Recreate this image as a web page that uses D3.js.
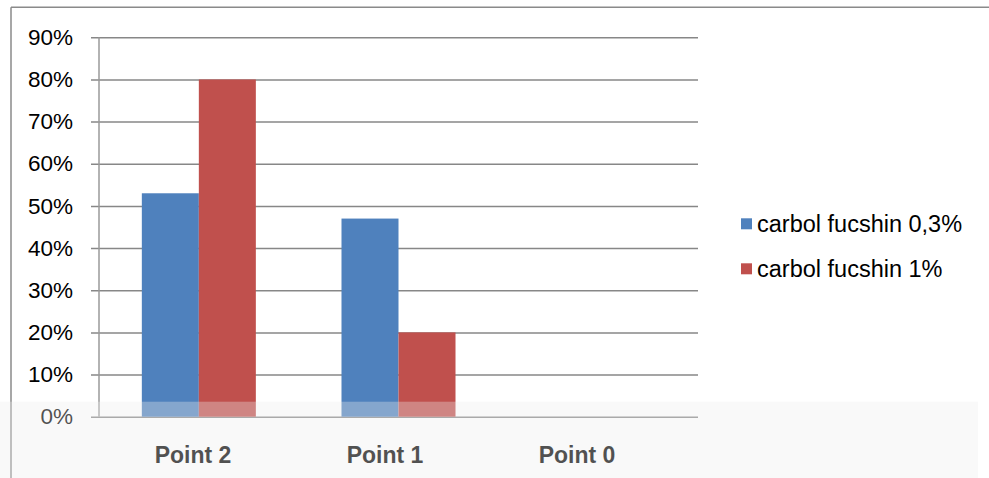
<!DOCTYPE html>
<html>
<head>
<meta charset="utf-8">
<script src="https://cdn.jsdelivr.net/npm/d3@7/dist/d3.min.js"></script>
<style>
  html, body { margin: 0; padding: 0; background: #fff; }
  svg { display: block; font-family: "Liberation Sans", Arial, sans-serif; }
</style>
</head>
<body>
<svg id="chart" width="989" height="478"></svg>
<script>
const categories = ["Point 2", "Point 1", "Point 0"];
const seriesNames = ["carbol fucshin 0,3%", "carbol fucshin 1%"];
const series03 = [53, 47, 0];
const series1 = [80, 20, 0];
const yTicks = [0, 10, 20, 30, 40, 50, 60, 70, 80, 90];
const colors = ["#4F81BD", "#C0504D"];

const svg = d3.select("#chart");
const W = 989, H = 478;
const plot = { left: 99, right: 698, top: 37.3, bottom: 416.7 };

const x = d3.scaleBand().domain(categories).range([plot.left, plot.right])
  .paddingInner(0.429).paddingOuter(0.2145);
const xs = d3.scaleBand().domain(seriesNames).range([0, x.bandwidth()]).padding(0);
const y = d3.scaleLinear().domain([0, 90]).range([plot.bottom, plot.top]);
const xLabel = d3.scaleBand().domain(categories).range([97, 673]);

// outer border
svg.append("line").attr("x1", 11).attr("x2", W).attr("y1", 7.3).attr("y2", 7.3)
  .attr("stroke", "#8a8a8a").attr("stroke-width", 1.5);
svg.append("line").attr("x1", 11).attr("x2", 11).attr("y1", 7.3).attr("y2", H)
  .attr("stroke", "#8a8a8a").attr("stroke-width", 1.5);

// gridlines + y axis
const yAxis = d3.axisLeft(y).tickValues(yTicks).tickFormat(d => d + "%")
  .tickSize(-(plot.right - plot.left)).tickSizeOuter(0).tickPadding(18);
const gy = svg.append("g").attr("transform", `translate(${plot.left},0)`).call(yAxis);
gy.select(".domain").remove();
gy.selectAll(".tick line").attr("x1", -8).attr("stroke", "#878787").attr("stroke-width", 1.5);
gy.selectAll(".tick text").attr("font-size", 22.5).attr("fill", "#000")
  .attr("font-family", "Liberation Sans, Arial, sans-serif").attr("x", -26);

// vertical axis line
svg.append("line").attr("x1", plot.left).attr("x2", plot.left)
  .attr("y1", y(90)).attr("y2", y(0)).attr("stroke", "#9a9a9a").attr("stroke-width", 1.5);

// bars
const data = categories.map((c, i) => ({ cat: c, vals: [series03[i], series1[i]] }));
const groups = svg.append("g").selectAll("g").data(data).join("g")
  .attr("transform", d => `translate(${x(d.cat)},0)`);
groups.selectAll("rect").data(d => d.vals.map((v, j) => ({ v, s: seriesNames[j], j })))
  .join("rect")
  .attr("x", d => xs(d.s))
  .attr("width", xs.bandwidth())
  .attr("y", d => y(d.v))
  .attr("height", d => y(0) - y(d.v))
  .attr("fill", d => colors[d.j]);

// category labels
svg.append("g").selectAll("text").data(categories).join("text")
  .attr("x", d => xLabel(d) + xLabel.bandwidth() / 2)
  .attr("y", 462.5)
  .attr("text-anchor", "middle")
  .attr("font-size", 23)
  .attr("font-weight", "bold")
  .attr("fill", "#000")
  .text(d => d);

// legend
const lg = svg.append("g").selectAll("g").data(seriesNames).join("g")
  .attr("transform", (d, i) => `translate(741,${218.3 + i * 45})`);
lg.append("rect").attr("width", 11).attr("height", 11).attr("fill", (d, i) => colors[i]);
lg.append("text").attr("x", 16).attr("y", 13.5).attr("font-size", 23.5).attr("fill", "#000").text(d => d);

// faded band overlay at bottom (as in source image)
svg.append("rect").attr("x", 0).attr("y", 401.7).attr("width", 978).attr("height", H - 401.7)
  .attr("fill", "#eeeeee").attr("opacity", 0.34);
</script>
</body>
</html>
